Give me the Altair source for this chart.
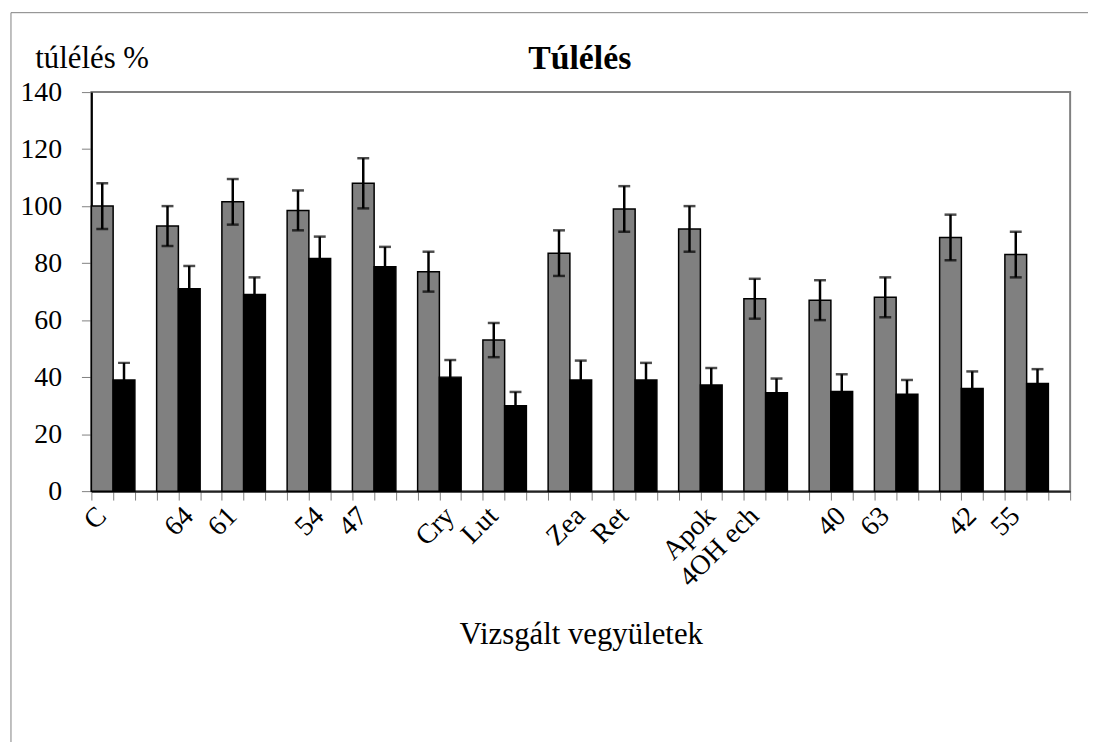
import altair as alt
import pandas as pd

categories = ["C", "64", "61", "54", "47", "Cry", "Lut", "Zea", "Ret", "Apok",
              "4OH ech", "40", "63", "42", "55"]
gray_values = [100, 93, 101.5, 98.5, 108, 77, 53, 83.5, 99, 92, 67.5, 67, 68, 89, 83]
gray_err = [8, 7, 8, 7, 8.8, 7, 6, 8, 8, 8, 7, 7, 7, 8, 8]
black_values = [39, 71, 69, 81.6, 78.7, 40, 30, 39, 39, 37.2, 34.5, 35, 34, 36, 37.8]
black_err = [6, 8, 6, 7.7, 7, 6, 4.8, 6.8, 6, 6, 5, 6, 5, 6, 5]
label_slots = [0, 4, 6, 10, 12, 16, 18, 22, 24, 28, 30, 34, 36, 40, 42]
n_slots = 45

rows = []
for i, c in enumerate(categories):
    rows.append({"slot": 3 * i, "series": "gray", "value": gray_values[i],
                 "lo": gray_values[i] - gray_err[i], "hi": gray_values[i] + gray_err[i]})
    rows.append({"slot": 3 * i + 1, "series": "black", "value": black_values[i],
                 "lo": black_values[i] - black_err[i], "hi": black_values[i] + black_err[i]})
df = pd.DataFrame(rows)
labels_df = pd.DataFrame({"pos": [s + 0.5 for s in label_slots], "label": categories})

FONT = "Liberation Serif"

xscale = alt.Scale(domain=list(range(n_slots)), paddingInner=0, paddingOuter=0)
x_axis = alt.Axis(labels=False, tickBand="extent",
                  domainColor="#222222", domainWidth=2, tickColor="#808080",
                  tickSize=9, tickWidth=1,
                  title="Vizsgált vegyületek", titleFont=FONT, titleFontSize=31,
                  titleFontWeight="normal", titleColor="black",
                  titleX=493, titleY=153, titleAlign="center",
                  titleBaseline="alphabetic")
y_axis = alt.Axis(values=list(range(0, 141, 20)), grid=False,
                  labelFont=FONT, labelFontSize=28, labelColor="black",
                  labelPadding=20, domainColor="black", domainWidth=2,
                  tickColor="#808080", tickSize=10, tickWidth=1,
                  title="túlélés %", titleFont=FONT, titleFontSize=31,
                  titleFontWeight="normal", titleColor="black", titleAngle=0,
                  titleX=-57, titleY=-25, titleAlign="left",
                  titleBaseline="alphabetic")
yscale = alt.Scale(domain=[0, 140], nice=False)
xenc = alt.X("slot:O", scale=xscale, axis=x_axis)

base = alt.Chart(df).encode(x=xenc)

bars = base.mark_bar(stroke="black", strokeWidth=1.5).encode(
    y=alt.Y("value:Q", scale=yscale, axis=y_axis),
    color=alt.Color("series:N", scale=alt.Scale(domain=["gray", "black"],
                                                range=["#808080", "#000000"]), legend=None),
)
err = base.mark_rule(color="black", strokeWidth=2.5).encode(
    y=alt.Y("lo:Q", scale=yscale, axis=y_axis), y2="hi:Q")
cap_hi = base.mark_tick(color="black", size=12, thickness=2.5).encode(
    y=alt.Y("hi:Q", scale=yscale, axis=y_axis))
cap_lo = base.mark_tick(color="black", size=12, thickness=2.5).encode(
    y=alt.Y("lo:Q", scale=yscale, axis=y_axis))
main = alt.layer(bars, err, cap_hi, cap_lo)

xlabels = alt.Chart(labels_df).mark_text(
    font=FONT, fontSize=28, color="black", align="right", baseline="middle").encode(
    x=alt.X("pos:Q", scale=alt.Scale(domain=[0, n_slots], nice=False, zero=False), axis=None),
    y=alt.value(423), text="label:N", angle=alt.value(315))

one = pd.DataFrame({"k": [0]})
frame_v = alt.Chart(one).mark_rule(color="#808080", strokeWidth=1).encode(
    x=alt.value(-81), y=alt.value(-80), y2=alt.value(700))
frame_h = alt.Chart(one).mark_rule(color="#808080", strokeWidth=1).encode(
    x=alt.value(-81), x2=alt.value(1100), y=alt.value(-80))
title = alt.Chart(pd.DataFrame({"t": ["Túlélés"]})).mark_text(
    font=FONT, fontSize=34, fontWeight="bold", color="black",
    align="center", baseline="alphabetic").encode(
    text="t:N", x=alt.value(492), y=alt.value(-23))

chart = alt.layer(frame_v, frame_h, main, xlabels, title).resolve_scale(
    x="independent").properties(
    width=986, height=402,
    background="white",
    autosize=alt.AutoSizeParams(type="none"),
    padding={"left": 84, "top": 82, "right": 18, "bottom": 250},
).configure_view(stroke="#808080", strokeWidth=2)

chart.save("out.html", embed_options={"renderer": "svg", "actions": False})
